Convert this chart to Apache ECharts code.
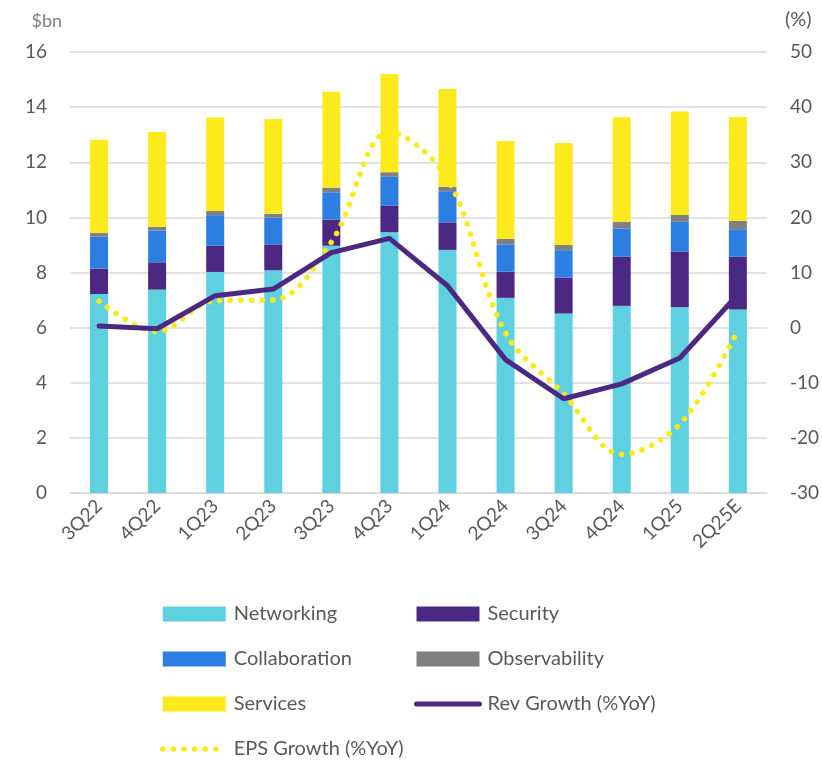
<!DOCTYPE html>
<html>
<head>
<meta charset="utf-8">
<script src="https://cdn.jsdelivr.net/npm/echarts@6/dist/echarts.min.js"></script>
<style>
  html, body { margin: 0; padding: 0; background: #fff; }
  #main { width: 822px; height: 760px; }
</style>
</head>
<body>
<div id="main"></div>
<script>
// quarters on the x axis
const quarters = ['3Q22', '4Q22', '1Q23', '2Q23', '3Q23', '4Q23', '1Q24', '2Q24', '3Q24', '4Q24', '1Q25', '2Q25E']

// segment revenue, $bn (stacked)
const networking    = [7.22, 7.38, 8.02, 8.08, 8.97, 9.46, 8.82, 7.08, 6.51, 6.79, 6.74, 6.66]
const security      = [0.92, 0.99, 0.95, 0.94, 0.95, 0.96, 1.00, 0.95, 1.30, 1.78, 2.02, 1.91]
const collaboration = [1.16, 1.15, 1.11, 0.97, 0.99, 1.05, 1.13, 0.99, 1.00, 1.03, 1.08, 1.00]
const observability = [0.13, 0.14, 0.15, 0.14, 0.17, 0.17, 0.16, 0.20, 0.20, 0.23, 0.25, 0.30]
const services      = [3.39, 3.44, 3.39, 3.44, 3.48, 3.56, 3.55, 3.55, 3.69, 3.80, 3.75, 3.77]

// growth lines, % YoY (right axis)
const revGrowth = [0.3, -0.2, 5.8, 7.0, 13.6, 16.2, 7.6, -5.8, -12.9, -10.2, -5.5, 6.0]
const epsGrowth = [4.8, -0.7, 4.9, 5.0, 15.5, 35.5, 27.0, -1.0, -12.0, -23.0, -17.5, -0.5]

// axis ticks
const leftTicks = { min: 0, max: 16, interval: 2 }
const rightTicks = { min: -30, max: 50, interval: 10 }

const textColor = '#595959'
const fontFamily = 'Lato, "Open Sans", sans-serif'
const epsDots = { color: '#FCEA1C', width: 5.5, type: [0.1, 10.5], cap: 'round' }
const revLine = { color: '#4B2882', width: 5, cap: 'round' }

const myChart = echarts.init(document.getElementById('main'))

function barSeries(name, data, color) {
  return {
    name: name,
    type: 'bar',
    stack: 'rev',
    barWidth: 18,
    itemStyle: { color: color },
    emphasis: { disabled: true },
    data: data
  }
}

// one legend column
function legendCol(left, items) {
  return {
    left: left,
    top: 599,
    height: 180,
    orient: 'vertical',
    itemWidth: 63,
    itemHeight: 15,
    itemGap: 25,
    textStyle: { color: textColor, fontSize: 20, fontFamily: fontFamily, padding: [0, 0, 0, 3] },
    data: items
  }
}

const option = {
  animation: false,
  textStyle: { fontFamily: fontFamily },
  grid: { left: 70, right: 53, top: 52, bottom: 267 },
  legend: [
    legendCol(155, [
      { name: 'Networking', icon: 'rect' },
      { name: 'Collaboration', icon: 'rect' },
      { name: 'Services', icon: 'rect' },
      { name: 'EPS Growth (%YoY)', itemStyle: { opacity: 0 }, lineStyle: epsDots }
    ]),
    legendCol(409, [
      { name: 'Security', icon: 'rect' },
      { name: 'Observability', icon: 'rect' },
      { name: 'Rev Growth (%YoY)', itemStyle: { opacity: 0 }, lineStyle: revLine }
    ])
  ],
  xAxis: {
    type: 'category',
    data: quarters,
    axisTick: { show: false },
    axisLine: { lineStyle: { color: '#D9D9D9', width: 1.5 } },
    axisLabel: {
      rotate: 45,
      margin: 10,
      color: textColor,
      fontSize: 19,
      fontFamily: fontFamily
    }
  },
  yAxis: [
    {
      type: 'value',
      min: leftTicks.min,
      max: leftTicks.max,
      interval: leftTicks.interval,
      name: '$bn',
      nameGap: 22,
      nameTextStyle: { color: '#7f7f7f', fontSize: 18, align: 'right', padding: [0, 8, 0, 0], fontFamily: fontFamily },
      axisLine: { show: false },
      axisTick: { show: false },
      axisLabel: { color: textColor, fontSize: 19, margin: 23, fontFamily: fontFamily },
      splitLine: { lineStyle: { color: '#D9D9D9', width: 1.5 } }
    },
    {
      type: 'value',
      min: rightTicks.min,
      max: rightTicks.max,
      interval: rightTicks.interval,
      name: '(%)',
      nameGap: 22,
      nameTextStyle: { color: textColor, fontSize: 20, align: 'left', padding: [0, 0, 0, 18], fontFamily: fontFamily },
      axisLine: { show: false },
      axisTick: { show: false },
      axisLabel: { color: textColor, fontSize: 19, margin: 23, fontFamily: fontFamily },
      splitLine: { show: false }
    }
  ],
  series: [
    barSeries('Networking', networking, '#5FD0DF'),
    barSeries('Security', security, '#4B2882'),
    barSeries('Collaboration', collaboration, '#2C7FE0'),
    barSeries('Observability', observability, '#808080'),
    barSeries('Services', services, '#FCEA1C'),
    {
      name: 'EPS Growth (%YoY)',
      type: 'line',
      yAxisIndex: 1,
      smooth: 0.35,
      symbol: 'none',
      z: 4,
      lineStyle: epsDots,
      itemStyle: { color: '#FCEA1C' },
      emphasis: { disabled: true },
      data: epsGrowth
    },
    {
      name: 'Rev Growth (%YoY)',
      type: 'line',
      yAxisIndex: 1,
      smooth: false,
      symbol: 'none',
      z: 5,
      lineStyle: revLine,
      itemStyle: { color: '#4B2882' },
      emphasis: { disabled: true },
      data: revGrowth
    }
  ]
}

option && myChart.setOption(option)
</script>
</body>
</html>
